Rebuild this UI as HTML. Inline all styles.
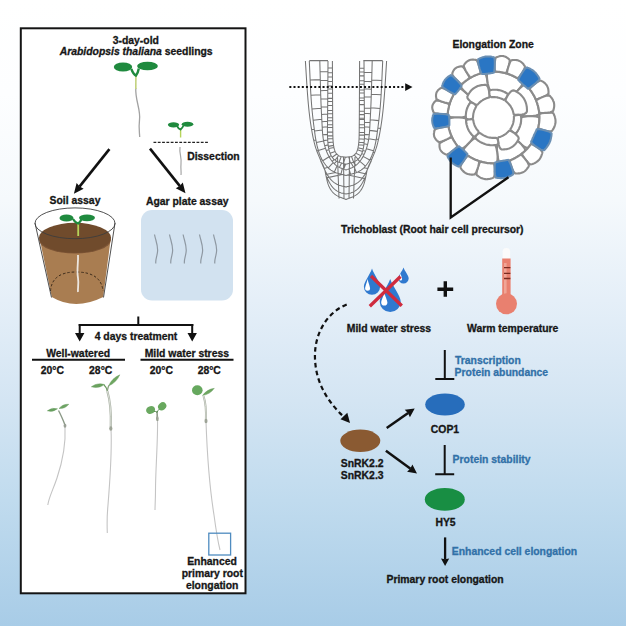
<!DOCTYPE html>
<html><head><meta charset="utf-8">
<style>
html,body{margin:0;padding:0;width:626px;height:626px;overflow:hidden;background:#fff}
svg{display:block}
text{font-family:"Liberation Sans",sans-serif;font-weight:bold;font-size:10.4px;fill:#161616;stroke:#161616;stroke-width:0.3px}
text.b{fill:#3171a8;stroke:#3171a8}
</style></head><body>
<svg width="626" height="626" viewBox="0 0 626 626">
<defs>
<linearGradient id="bg" x1="0" y1="0" x2="0" y2="626" gradientUnits="userSpaceOnUse">
<stop offset="0" stop-color="#ffffff"/>
<stop offset="0.15" stop-color="#fdfeff"/>
<stop offset="0.32" stop-color="#f5f9fc"/>
<stop offset="0.48" stop-color="#e5eff8"/>
<stop offset="0.64" stop-color="#d4e5f3"/>
<stop offset="0.8" stop-color="#c0dbee"/>
<stop offset="1" stop-color="#a8cce7"/>
</linearGradient>
</defs>
<rect width="626" height="626" fill="url(#bg)"/>
<rect x="20.8" y="28.3" width="224.7" height="565" fill="#fff" stroke="#141414" stroke-width="2"/>
<text x="135.8" y="43.50" text-anchor="middle">3-day-old</text>
<text x="136.15" y="55.10" text-anchor="middle"><tspan font-style="italic">Arabidopsis thaliana</tspan> seedlings</text>
<text x="213.45" y="159.80" text-anchor="middle">Dissection</text>
<text x="75" y="203.50" text-anchor="middle">Soil assay</text>
<text x="187.2" y="204.90" text-anchor="middle">Agar plate assay</text>
<text x="136" y="339.50" text-anchor="middle">4 days treatment</text>
<text x="78.1" y="357.40" text-anchor="middle">Well-watered</text>
<text x="186.85" y="357.40" text-anchor="middle">Mild water stress</text>
<text x="52.35" y="373.50" text-anchor="middle">20°C</text>
<text x="100.7" y="373.50" text-anchor="middle">28°C</text>
<text x="161.3" y="373.50" text-anchor="middle">20°C</text>
<text x="209.25" y="373.50" text-anchor="middle">28°C</text>
<text x="212" y="564.50" text-anchor="middle">Enhanced</text>
<text x="212.25" y="577.10" text-anchor="middle">primary root</text>
<text x="212.2" y="589.10" text-anchor="middle">elongation</text>
<text x="493.15" y="48.40" text-anchor="middle">Elongation Zone</text>
<text x="432.35" y="233.00" text-anchor="middle">Trichoblast (Root hair cell precursor)</text>
<text x="388.9" y="331.90" text-anchor="middle">Mild water stress</text>
<text x="512.7" y="332.20" text-anchor="middle">Warm temperature</text>
<text x="455.0" y="364.00" text-anchor="start" class="b">Transcription</text>
<text x="454.6" y="376.30" text-anchor="start" class="b">Protein abundance</text>
<text x="444.95" y="432.80" text-anchor="middle">COP1</text>
<text x="362.2" y="466.90" text-anchor="middle">SnRK2.2</text>
<text x="362.2" y="479.20" text-anchor="middle">SnRK2.3</text>
<text x="491.6" y="463.30" text-anchor="middle" class="b">Protein stability</text>
<text x="445.55" y="526.40" text-anchor="middle">HY5</text>
<text x="514.5" y="554.70" text-anchor="middle" class="b">Enhanced cell elongation</text>
<text x="445.1" y="583.20" text-anchor="middle">Primary root elongation</text>
<line x1="109.4" y1="149.1" x2="79.50" y2="186.66" stroke="#111" stroke-width="2.6"/>
<path d="M73.90,193.70 L76.61,183.07 L79.63,186.50 L83.65,188.68 Z" fill="#111"/>
<line x1="150" y1="148.6" x2="179.90" y2="186.16" stroke="#111" stroke-width="2.6"/>
<path d="M185.50,193.20 L175.75,188.18 L179.77,186.00 L182.79,182.57 Z" fill="#111"/>
<path d="M138.3,316.5 V325 M78.5,325 H193.5 M79.7,324 V334 M192.2,324 V334" stroke="#111" stroke-width="2" fill="none"/>
<path d="M75,333 L84.4,333 L79.7,341.5 Z M187.5,333 L196.9,333 L192.2,341.5 Z" fill="#111"/>
<path d="M32,359.8 H125 M140.5,359.8 H233.5" stroke="#111" stroke-width="2"/>
<line x1="153.5" y1="142.3" x2="208" y2="142.3" stroke="#222" stroke-width="1.25" stroke-dasharray="2.8,1.5"/>
<path d="M135.8,88 C135,100 141,110 139.5,120 C138.5,128 139.5,132 139.7,137" stroke="#a2a2a2" stroke-width="1.3" fill="none"/>
<line x1="135.9" y1="75" x2="135.8" y2="89" stroke="#c3d27e" stroke-width="1.6"/>
<path d="M131.3,69 Q133.5,74.5 135.9,75.6 Q137.9,73.5 138.8,68.5" stroke="#1f8a3e" stroke-width="2.4" fill="none"/>
<ellipse cx="123" cy="67" rx="9.2" ry="4.6" fill="#1f8a3e"/><ellipse cx="147.5" cy="66" rx="10.4" ry="4.3" fill="#1f8a3e"/>
<line x1="180.6" y1="128" x2="180.6" y2="137.5" stroke="#b6d45a" stroke-width="1.4"/>
<path d="M177,126 Q178.5,129 180.6,129.5 Q182.5,128 183.5,125.5" stroke="#1f8a3e" stroke-width="1.8" fill="none"/>
<ellipse cx="173.5" cy="124.8" rx="5.6" ry="2.6" fill="#1f8a3e"/><ellipse cx="187.5" cy="124.3" rx="5.8" ry="2.5" fill="#1f8a3e"/>
<path d="M180,147 C179,153 182,158 181,164 C180.5,169 181.5,172 181,175" stroke="#a6a6a6" stroke-width="1.2" fill="none"/>
<path d="M39.5,238 L51.8,297 Q75,311 103.2,297 L110.8,238 Z" fill="#a97d51"/>
<ellipse cx="75" cy="240" rx="35.8" ry="13.5" fill="#7d5536"/>
<ellipse cx="75" cy="237.8" rx="36" ry="15" fill="#704b2c"/>
<path d="M50.5,291 Q52,272 76,272 Q101,272 103,291" stroke="#3a2a1a" stroke-width="1" stroke-dasharray="2.5,2" fill="none"/>
<path d="M78,255 C78.5,262 76.5,270 78,278 C79,284 77.5,289 78,292" stroke="#ece6df" stroke-width="1.8" fill="none"/>
<ellipse cx="75" cy="223.3" rx="40" ry="15.4" fill="none" stroke="#3d3d3d" stroke-width="0.9"/>
<path d="M35,223 L51.5,297.5 M115,223 L103.5,297.5" stroke="#3d3d3d" stroke-width="0.9"/>
<line x1="78.2" y1="222" x2="78.2" y2="236" stroke="#b6d45a" stroke-width="1.8"/>
<path d="M73,219 Q75.5,223 78.2,223.5 Q80.5,222 82,218" stroke="#1f8a3e" stroke-width="2.2" fill="none"/>
<ellipse cx="66.5" cy="218" rx="7" ry="3.6" fill="#1f8a3e"/><ellipse cx="87" cy="217.8" rx="8" ry="3.4" fill="#1f8a3e"/>
<rect x="141" y="210" width="92" height="90.5" rx="11" fill="#d2e2f0"/>
<path d="M154.5,234.5 C155.5,240 158,245 157.6,251 C157.3,256 155.3,259 155.8,263.5" stroke="#8e98a2" stroke-width="1.2" fill="none"/>
<path d="M169.5,234.5 C170.5,240 173,245 172.6,251 C172.3,256 170.3,259 170.8,263.5" stroke="#8e98a2" stroke-width="1.2" fill="none"/>
<path d="M183.1,234.5 C184.1,240 186.6,245 186.2,251 C185.9,256 183.9,259 184.4,263.5" stroke="#8e98a2" stroke-width="1.2" fill="none"/>
<path d="M199.5,234.5 C200.5,240 203,245 202.6,251 C202.3,256 200.3,259 200.8,263.5" stroke="#8e98a2" stroke-width="1.2" fill="none"/>
<path d="M213.5,234.5 C214.5,240 217,245 216.6,251 C216.3,256 214.3,259 214.8,263.5" stroke="#8e98a2" stroke-width="1.2" fill="none"/>
<path d="M65,427 C66,445 63,460 57,478 C53,490 49,497 47.8,505" stroke="#c4c4c4" stroke-width="1.1" fill="none"/>
<path d="M58.5,410.5 Q61.5,416 65,425" stroke="#8a9886" stroke-width="1.4" fill="none"/>
<path d="M47.3,410.8 Q52.98,412.74 57.5,408.8 Q51.82,406.86 47.3,410.8 Z" fill="#68a060" stroke="#5e9456" stroke-width="0.4"/>
<path d="M59,408.5 Q65.00,408.97 68.8,404.3 Q62.80,403.83 59,408.5 Z" fill="#6ea464" stroke="#5e9456" stroke-width="0.4"/>
<ellipse cx="65" cy="425.8" rx="1.4" ry="2" fill="#9aa096"/>
<path d="M111,429 C112,450 110,480 108,505 C107,515 107,525 107.3,533" stroke="#c4c4c4" stroke-width="1.1" fill="none"/>
<path d="M107.3,391 Q111.5,405 110.8,427" stroke="#a9b0a4" stroke-width="2.2" fill="none"/>
<path d="M107.3,391 Q111.5,405 110.8,427" stroke="#dfe3db" stroke-width="0.9" fill="none"/>
<path d="M91.3,386.8 Q98.48,389.00 104.5,384.5 Q97.32,382.30 91.3,386.8 Z" fill="#6aa25e" stroke="#5e9456" stroke-width="0.4"/>
<path d="M104,385 Q106.5,387 107.3,391" stroke="#6a9a5e" stroke-width="1.2" fill="none"/>
<path d="M108.5,386 Q116.40,382.67 119.8,374.8 Q111.90,378.13 108.5,386 Z" fill="#6ea660" stroke="#5e9456" stroke-width="0.4"/>
<path d="M107.3,391 Q107.8,388 108.8,385.5" stroke="#8aa080" stroke-width="1.3" fill="none"/>
<ellipse cx="110.8" cy="428.5" rx="1.6" ry="2.2" fill="#9da396"/>
<path d="M157.5,420 C158,440 155.5,470 155.5,490 C155.5,500 155,505 155,510" stroke="#c4c4c4" stroke-width="1.1" fill="none"/>
<path d="M157,411 L157.5,421" stroke="#8f9a8a" stroke-width="1.6"/>
<ellipse cx="150.6" cy="410" rx="4.6" ry="3.8" transform="rotate(-20 150.6 410)" fill="#6aa860"/>
<ellipse cx="162.2" cy="406.3" rx="4.4" ry="3.7" transform="rotate(-40 162.2 406.3)" fill="#68a85e"/>
<path d="M154,411.5 Q156,411 157,412.5 Q158,410 159.5,409" stroke="#5f8f58" stroke-width="1" fill="none"/>
<ellipse cx="157.3" cy="418.5" rx="1.3" ry="2.3" fill="#9da396"/>
<path d="M206,422 C207,450 210,490 214,515 C216,530 218,542 220,550" stroke="#c4c4c4" stroke-width="1.1" fill="none"/>
<path d="M203.5,396 Q206.5,405 205.9,420" stroke="#a9b0a4" stroke-width="2" fill="none"/>
<path d="M203.5,396 Q206.5,405 205.9,420" stroke="#e2e5de" stroke-width="0.8" fill="none"/>
<ellipse cx="197.3" cy="390.3" rx="5.3" ry="5" fill="#66a85e"/>
<path d="M202.5,395.5 Q209.96,394.46 214.3,388.3 Q206.84,389.34 202.5,395.5 Z" fill="#6ea660" stroke="#5e9456" stroke-width="0.4"/>
<ellipse cx="206" cy="421" rx="1.5" ry="2.2" fill="#9da396"/>
<rect x="208.8" y="533.2" width="21.8" height="21.8" fill="none" stroke="#4f8cc0" stroke-width="1.3"/>
<path d="M372,268.6 C374.025,274.935 380.1,282.245 380.1,286.7 A8.1,8.1 0 0 1 363.9,286.7 C363.9,282.245 369.975,274.935 372,268.6 Z" fill="#2f79cf"/>
<path d="M403.5,267.4 C404.8,271.215 408.7,275.44 408.7,278.3 A5.2,5.2 0 0 1 398.3,278.3 C398.3,275.44 402.2,271.215 403.5,267.4 Z" fill="#2f79cf"/>
<path d="M390.2,278.9 C392.825,286.81 400.7,295.725 400.7,301.5 A10.5,10.5 0 0 1 379.7,301.5 C379.7,295.725 387.575,286.81 390.2,278.9 Z" fill="#2f79cf"/>
<path d="M367.6,279 C368.225,282.255 370.1,286.925 370.1,288.3 A2.5,2.5 0 0 1 365.1,288.3 C365.1,286.925 366.975,282.255 367.6,279 Z" fill="#ffffff"/>
<path d="M384.3,292.5 C385.075,295.965 387.40000000000003,300.695 387.40000000000003,302.4 A3.1,3.1 0 0 1 381.2,302.4 C381.2,300.695 383.52500000000003,295.965 384.3,292.5 Z" fill="#ffffff"/>
<path d="M400.6,273.2 C400.975,275.23 402.1,278.175 402.1,279.0 A1.5,1.5 0 0 1 399.1,279.0 C399.1,278.175 400.225,275.23 400.6,273.2 Z" fill="#ffffff"/>
<path d="M371,276 L401.8,305.8 M400.5,276.5 L369.8,306.2" stroke="#cf2b3e" stroke-width="3.3" />
<path d="M437.4,289.2 H453.2 M445.3,281.3 V296.8" stroke="#111" stroke-width="3.4"/>
<rect x="502.6" y="248" width="7.6" height="14" rx="3.8" fill="#fbfbfb"/>
<rect x="502.2" y="258.5" width="8.4" height="40" fill="#e9806f"/>
<rect x="504" y="263" width="2.6" height="33" fill="#f0a596"/>
<circle cx="506.5" cy="303.8" r="10.5" fill="#e9806f"/>
<path d="M504,267.6 H510.4 M504,273.4 H510.4 M504,278.5 H510.4" stroke="#7a2a20" stroke-width="1.3"/>
<path d="M346.7,304.4 C324,314 313,338 315.2,362 C317,386 330,404 343.5,416.5" stroke="#111" stroke-width="2.2" fill="none" stroke-dasharray="4.6,3.3"/>
<path d="M350,423 L340.5,419.3 L347.3,412.8 Z" fill="#111"/>
<line x1="386.7" y1="428" x2="408.15" y2="412.99" stroke="#111" stroke-width="2.5"/>
<path d="M414.70,408.40 L409.91,417.25 L407.98,413.10 L404.75,409.87 Z" fill="#111"/>
<line x1="385.9" y1="450.7" x2="410.54" y2="468.68" stroke="#111" stroke-width="2.5"/>
<path d="M417.00,473.40 L407.08,471.73 L410.38,468.57 L412.38,464.46 Z" fill="#111"/>
<path d="M444.8,349.9 V379.1 M435.3,379.1 H454.3" stroke="#111" stroke-width="2" fill="none"/>
<path d="M444.7,444.9 V474.3 M435.2,474.3 H454.2" stroke="#111" stroke-width="2" fill="none"/>
<line x1="445.1" y1="537.4" x2="445.10" y2="559.50" stroke="#111" stroke-width="2.3"/>
<path d="M445.10,566.00 L441.00,558.50 L445.10,559.30 L449.20,558.50 Z" fill="#111"/>
<ellipse cx="445" cy="404.5" rx="19.8" ry="11" fill="#276dbb"/>
<ellipse cx="360.3" cy="440.8" rx="20" ry="11.2" fill="#8a5a32"/>
<ellipse cx="444.8" cy="499.4" rx="20" ry="11.4" fill="#188e43"/>
<path d="M332.40,61.00 L332.40,62.05 L332.41,64.14 L332.43,67.28 L332.45,71.47 L332.47,76.70 L332.50,82.98 L332.53,90.31 L332.57,98.69 L332.61,106.25 L332.64,113.00 L332.68,118.94 L332.72,124.06 L332.76,128.38 L332.79,131.88 L332.83,134.56 L332.87,136.44 L332.93,138.23 L333.02,139.93 L333.14,141.55 L333.28,143.08 L333.45,144.52 L333.65,145.88 L333.88,147.16 L334.12,148.34 L334.41,149.45 L334.74,150.46 L335.11,151.39 L335.52,152.23 L335.96,152.99 L336.45,153.66 L336.97,154.25 L337.53,154.75 L338.12,155.20 L338.75,155.60 L339.41,155.94 L340.09,156.23 L340.81,156.48 L341.56,156.67 L342.34,156.81 L343.16,156.89 L343.87,156.97 L344.48,157.04 L344.98,157.09 L345.39,157.13 L345.70,157.17 L345.90,157.19 L346.00,157.20 L346.10,157.19 L346.30,157.17 L346.61,157.13 L347.02,157.09 L347.52,157.04 L348.13,156.97 L348.84,156.89 L349.66,156.81 L350.44,156.67 L351.19,156.48 L351.91,156.23 L352.59,155.94 L353.25,155.60 L353.88,155.20 L354.47,154.75 L355.03,154.25 L355.55,153.66 L356.04,152.99 L356.48,152.23 L356.89,151.39 L357.26,150.46 L357.59,149.45 L357.88,148.34 L358.12,147.16 L358.35,145.88 L358.55,144.52 L358.72,143.08 L358.86,141.55 L358.98,139.93 L359.07,138.23 L359.13,136.44 L359.17,134.56 L359.21,131.88 L359.24,128.38 L359.28,124.06 L359.32,118.94 L359.36,113.00 L359.39,106.25 L359.43,98.69 L359.47,90.31 L359.50,82.98 L359.53,76.70 L359.55,71.47 L359.57,67.28 L359.59,64.14 L359.60,62.05 L359.60,61.00 M328.00,61.00 L327.99,61.89 L327.98,63.67 L327.96,66.34 L327.94,69.91 L327.91,74.36 L327.87,79.70 L327.83,85.94 L327.77,93.06 L327.73,99.61 L327.68,105.58 L327.63,110.97 L327.59,115.78 L327.55,120.02 L327.51,123.67 L327.47,126.75 L327.43,129.25 L327.43,131.66 L327.45,133.97 L327.51,136.19 L327.59,138.31 L327.71,140.34 L327.86,142.28 L328.04,144.12 L328.26,145.88 L328.53,147.55 L328.86,149.14 L329.25,150.66 L329.70,152.09 L330.21,153.45 L330.78,154.73 L331.41,155.94 L332.09,157.06 L332.88,158.10 L333.75,159.04 L334.72,159.89 L335.78,160.66 L336.94,161.33 L338.19,161.91 L339.53,162.40 L340.97,162.80 L342.23,163.15 L343.30,163.45 L344.20,163.70 L344.92,163.90 L345.46,164.05 L345.82,164.15 L346.00,164.20 L346.18,164.15 L346.54,164.05 L347.08,163.90 L347.80,163.70 L348.70,163.45 L349.77,163.15 L351.03,162.80 L352.47,162.40 L353.81,161.91 L355.06,161.33 L356.22,160.66 L357.28,159.89 L358.25,159.04 L359.12,158.10 L359.91,157.06 L360.59,155.94 L361.22,154.73 L361.79,153.45 L362.30,152.09 L362.75,150.66 L363.14,149.14 L363.47,147.55 L363.74,145.88 L363.96,144.12 L364.14,142.28 L364.29,140.34 L364.41,138.31 L364.49,136.19 L364.55,133.97 L364.57,131.66 L364.57,129.25 L364.53,126.75 L364.49,123.67 L364.45,120.02 L364.41,115.78 L364.37,110.97 L364.32,105.58 L364.27,99.61 L364.23,93.06 L364.17,85.94 L364.13,79.70 L364.09,74.36 L364.06,69.91 L364.04,66.34 L364.02,63.67 L364.01,61.89 L364.00,61.00 M319.80,61.00 L319.82,61.61 L319.85,62.83 L319.89,64.66 L319.96,67.09 L320.03,70.14 L320.13,73.80 L320.24,78.06 L320.36,82.94 L320.49,87.58 L320.62,91.98 L320.76,96.16 L320.89,100.09 L321.03,103.80 L321.18,107.27 L321.32,110.50 L321.47,113.50 L321.62,116.38 L321.77,119.12 L321.91,121.75 L322.04,124.25 L322.18,126.62 L322.31,128.88 L322.44,131.00 L322.56,133.00 L322.74,134.98 L322.98,136.95 L323.27,138.91 L323.61,140.84 L324.01,142.77 L324.46,144.67 L324.97,146.56 L325.53,148.44 L326.15,150.25 L326.82,152.00 L327.55,153.69 L328.33,155.31 L329.16,156.88 L330.05,158.38 L331.00,159.81 L332.00,161.19 L333.04,162.45 L334.12,163.61 L335.23,164.66 L336.39,165.59 L337.59,166.42 L338.82,167.14 L340.09,167.75 L341.41,168.25 L342.55,168.69 L343.54,169.06 L344.36,169.38 L345.02,169.62 L345.51,169.81 L345.84,169.94 L346.00,170.00 L346.16,169.94 L346.49,169.81 L346.98,169.62 L347.64,169.38 L348.46,169.06 L349.45,168.69 L350.59,168.25 L351.91,167.75 L353.18,167.14 L354.41,166.42 L355.61,165.59 L356.77,164.66 L357.88,163.61 L358.96,162.45 L360.00,161.19 L361.00,159.81 L361.95,158.38 L362.84,156.88 L363.67,155.31 L364.45,153.69 L365.18,152.00 L365.85,150.25 L366.47,148.44 L367.03,146.56 L367.54,144.67 L367.99,142.77 L368.39,140.84 L368.73,138.91 L369.02,136.95 L369.26,134.98 L369.44,133.00 L369.56,131.00 L369.69,128.88 L369.82,126.62 L369.96,124.25 L370.09,121.75 L370.23,119.12 L370.38,116.38 L370.53,113.50 L370.68,110.50 L370.82,107.27 L370.97,103.80 L371.11,100.09 L371.24,96.16 L371.38,91.98 L371.51,87.58 L371.64,82.94 L371.76,78.06 L371.87,73.80 L371.97,70.14 L372.04,67.09 L372.11,64.66 L372.15,62.83 L372.18,61.61 L372.20,61.00 M309.30,61.00 L309.33,61.61 L309.38,62.83 L309.46,64.66 L309.57,67.09 L309.70,70.14 L309.86,73.80 L310.04,78.06 L310.26,82.94 L310.48,87.58 L310.72,91.98 L310.97,96.16 L311.23,100.09 L311.51,103.80 L311.79,107.27 L312.09,110.50 L312.41,113.50 L312.73,116.45 L313.05,119.36 L313.39,122.22 L313.73,125.03 L314.09,127.80 L314.45,130.52 L314.81,133.19 L315.19,135.81 L315.59,138.34 L316.03,140.78 L316.50,143.12 L317.00,145.38 L317.53,147.53 L318.09,149.59 L318.69,151.56 L319.31,153.44 L320.01,155.26 L320.77,157.02 L321.61,158.73 L322.52,160.39 L323.49,161.99 L324.54,163.54 L325.66,165.03 L326.84,166.47 L328.12,167.79 L329.48,168.99 L330.92,170.08 L332.45,171.05 L334.07,171.90 L335.77,172.63 L337.56,173.25 L339.44,173.75 L341.08,174.19 L342.48,174.56 L343.66,174.88 L344.59,175.12 L345.30,175.31 L345.77,175.44 L346.00,175.50 L346.23,175.44 L346.70,175.31 L347.41,175.12 L348.34,174.88 L349.52,174.56 L350.92,174.19 L352.56,173.75 L354.44,173.25 L356.23,172.63 L357.93,171.90 L359.55,171.05 L361.08,170.08 L362.52,168.99 L363.88,167.79 L365.16,166.47 L366.34,165.03 L367.46,163.54 L368.51,161.99 L369.48,160.39 L370.39,158.73 L371.23,157.02 L371.99,155.26 L372.69,153.44 L373.31,151.56 L373.91,149.59 L374.47,147.53 L375.00,145.38 L375.50,143.12 L375.97,140.78 L376.41,138.34 L376.81,135.81 L377.19,133.19 L377.55,130.52 L377.91,127.80 L378.27,125.03 L378.61,122.22 L378.95,119.36 L379.27,116.45 L379.59,113.50 L379.91,110.50 L380.21,107.27 L380.49,103.80 L380.77,100.09 L381.03,96.16 L381.28,91.98 L381.52,87.58 L381.74,82.94 L381.96,78.06 L382.14,73.80 L382.30,70.14 L382.43,67.09 L382.54,64.66 L382.62,62.83 L382.67,61.61 L382.70,61.00 M305.40,61.00 L305.44,61.61 L305.51,62.83 L305.62,64.66 L305.77,67.09 L305.96,70.14 L306.19,73.80 L306.45,78.06 L306.75,82.94 L307.05,87.58 L307.36,91.98 L307.68,96.16 L308.00,100.09 L308.32,103.80 L308.65,107.27 L308.98,110.50 L309.32,113.50 L309.68,116.45 L310.05,119.36 L310.45,122.22 L310.87,125.03 L311.31,127.80 L311.77,130.52 L312.25,133.19 L312.75,135.81 L313.27,138.31 L313.80,140.69 L314.34,142.94 L314.91,145.06 L315.48,147.06 L316.08,148.94 L316.69,150.69 L317.31,152.31 L317.94,153.89 L318.56,155.42 L319.19,156.91 L319.81,158.34 L320.44,159.73 L321.06,161.08 L321.69,162.38 L322.31,163.62 L322.88,164.84 L323.40,166.03 L323.86,167.19 L324.27,168.31 L324.62,169.41 L324.91,170.47 L325.16,171.50 L325.34,172.50 L325.55,173.54 L325.77,174.62 L326.00,175.73 L326.25,176.89 L326.52,178.09 L326.80,179.32 L327.09,180.59 L327.41,181.91 L327.77,183.19 L328.20,184.44 L328.67,185.66 L329.20,186.84 L329.79,188.00 L330.43,189.12 L331.12,190.22 L331.88,191.28 L332.71,192.28 L333.63,193.22 L334.64,194.09 L335.73,194.91 L336.91,195.66 L338.18,196.34 L339.53,196.97 L340.97,197.53 L342.23,198.02 L343.30,198.45 L344.20,198.80 L344.92,199.08 L345.46,199.29 L345.82,199.43 L346.00,199.50 L346.18,199.43 L346.54,199.29 L347.08,199.08 L347.80,198.80 L348.70,198.45 L349.77,198.02 L351.03,197.53 L352.47,196.97 L353.82,196.34 L355.09,195.66 L356.27,194.91 L357.36,194.09 L358.37,193.22 L359.29,192.28 L360.12,191.28 L360.88,190.22 L361.57,189.12 L362.21,188.00 L362.80,186.84 L363.33,185.66 L363.80,184.44 L364.23,183.19 L364.59,181.91 L364.91,180.59 L365.20,179.32 L365.48,178.09 L365.75,176.89 L366.00,175.73 L366.23,174.62 L366.45,173.54 L366.66,172.50 L366.84,171.50 L367.09,170.47 L367.38,169.41 L367.73,168.31 L368.14,167.19 L368.60,166.03 L369.12,164.84 L369.69,163.62 L370.31,162.38 L370.94,161.08 L371.56,159.73 L372.19,158.34 L372.81,156.91 L373.44,155.42 L374.06,153.89 L374.69,152.31 L375.31,150.69 L375.92,148.94 L376.52,147.06 L377.09,145.06 L377.66,142.94 L378.20,140.69 L378.73,138.31 L379.25,135.81 L379.75,133.19 L380.23,130.52 L380.69,127.80 L381.13,125.03 L381.55,122.22 L381.95,119.36 L382.32,116.45 L382.68,113.50 L383.02,110.50 L383.35,107.27 L383.68,103.80 L384.00,100.09 L384.32,96.16 L384.64,91.98 L384.95,87.58 L385.25,82.94 L385.55,78.06 L385.81,73.80 L386.04,70.14 L386.23,67.09 L386.38,64.66 L386.49,62.83 L386.56,61.61 L386.60,61.00 M309.30,60.60 L328.00,60.60 M363.30,60.60 L382.70,60.60 M332.43,67.92 L327.95,67.77 M332.45,72.76 L327.92,72.66 M332.47,76.91 L327.89,76.80 M332.49,81.41 L327.86,81.32 M332.51,85.91 L327.83,85.83 M332.53,89.02 L327.80,88.84 M332.54,93.18 L327.78,92.98 M332.57,98.37 L327.74,98.25 M332.58,101.48 L327.71,101.26 M332.60,105.29 L327.68,105.40 M332.63,110.47 L327.64,110.29 M332.65,113.59 L327.61,113.67 M332.67,117.74 L327.57,117.81 M332.70,120.85 L327.54,120.82 M332.72,124.66 L327.50,124.58 M332.75,127.43 L327.46,127.22 M332.79,131.92 L327.43,132.11 M332.85,135.73 L327.50,135.87 M332.95,138.50 L327.63,138.88 M333.18,141.95 L327.90,142.63 M333.58,145.38 L328.34,146.37 M333.93,147.43 L328.74,148.59 M335.11,151.40 L330.14,153.27 M336.77,154.02 L332.24,157.25 M338.65,155.53 L335.13,160.19 M341.20,156.58 L339.12,162.25 M345.31,157.13 L343.46,163.49 M359.57,68.27 L364.05,68.15 M359.55,72.07 L364.08,71.91 M359.53,75.88 L364.10,75.67 M359.51,80.72 L364.14,80.56 M359.50,84.18 L364.16,84.33 M359.47,90.06 L364.20,89.97 M359.46,92.83 L364.22,92.98 M359.43,98.02 L364.26,97.87 M359.42,100.44 L364.28,100.51 M359.40,104.59 L364.31,104.64 M359.37,111.17 L364.37,111.04 M359.35,114.63 L364.40,114.43 M359.32,118.09 L364.43,118.19 M359.31,119.47 L364.44,119.32 M359.28,124.66 L364.50,124.58 M359.25,127.77 L364.54,127.59 M359.20,132.27 L364.57,132.49 M359.16,135.04 L364.52,135.12 M359.03,138.84 L364.35,139.25 M358.79,142.29 L364.10,142.63 M358.52,144.70 L363.82,145.25 M358.00,147.77 L363.18,148.96 M357.48,149.78 L362.49,151.50 M355.88,153.21 L360.74,155.65 M354.21,154.95 L358.03,159.23 M351.46,156.38 L353.58,161.99 M348.75,156.90 L350.35,162.99 M327.93,71.53 L320.07,71.71 M327.87,80.19 L320.30,80.44 M327.79,90.35 L320.59,90.75 M327.73,99.00 L320.86,99.08 M327.67,106.90 L321.17,107.01 M327.61,114.05 L321.53,114.54 M327.54,121.20 L321.90,121.67 M327.47,126.84 L322.21,127.21 M327.46,134.37 L322.72,134.73 M327.69,140.01 L323.57,140.62 M328.13,144.88 L324.72,145.65 M329.00,149.69 L326.27,150.57 M331.26,155.65 L329.07,156.70 M334.25,159.48 L332.12,161.33 M336.71,161.20 L334.22,163.71 M341.65,162.99 L339.35,167.40 M344.91,163.90 L343.03,168.87 M364.08,72.29 L371.91,72.50 M364.14,81.32 L371.67,81.63 M364.20,88.84 L371.46,89.16 M364.25,96.74 L371.21,97.09 M364.34,108.03 L370.78,108.19 M364.39,113.30 L370.51,113.74 M364.48,122.33 L370.05,122.46 M364.53,126.84 L369.79,127.21 M364.54,134.37 L369.28,134.73 M364.40,138.50 L368.64,139.45 M363.99,143.75 L367.58,144.50 M362.81,150.41 L365.45,151.31 M361.72,153.62 L364.02,154.58 M357.75,159.48 L359.88,161.33 M353.23,162.12 L355.99,165.28 M351.07,162.79 L353.36,167.04 M345.64,164.10 L343.78,169.15 M320.28,79.64 L310.13,80.04 M320.71,94.71 L310.91,95.18 M321.22,108.19 L311.95,109.00 M321.77,119.29 L313.15,120.19 M322.38,129.99 L314.50,130.93 M323.64,141.01 L316.37,142.47 M325.50,148.32 L318.35,150.46 M329.07,156.70 L322.76,160.79 M333.13,162.55 L328.31,167.96 M336.96,165.99 L334.39,172.04 M342.29,168.59 L340.98,174.16 M371.71,80.04 L381.85,80.47 M371.30,94.32 L381.12,94.74 M370.80,107.80 L380.09,108.56 M370.20,119.69 L378.80,120.62 M369.60,130.38 L377.44,131.36 M368.77,138.67 L376.12,139.92 M366.38,148.69 L373.52,150.87 M363.12,156.35 L369.68,160.04 M359.88,161.33 L365.48,166.07 M354.04,166.64 L356.41,172.55 M348.97,168.87 L350.60,174.27 M314.27,129.22 L311.61,129.56 M315.88,139.92 L313.74,140.41 M318.35,150.46 L316.82,151.03 M321.70,158.90 L320.28,159.39 M327.69,167.35 L324.35,168.57 M335.59,172.55 L325.73,174.44 M342.23,174.50 L326.47,177.88 M377.90,127.93 L380.56,128.57 M376.28,139.07 L378.48,139.43 M373.13,152.11 L374.45,152.90 M370.09,159.28 L371.51,159.84 M364.01,167.66 L367.65,168.57 M357.61,172.04 L366.37,173.95 M348.09,174.94 L365.31,178.86 M320.50,160.50 L320.62,160.76 L320.85,161.27 L321.20,162.05 L321.67,163.08 L322.26,164.37 L322.96,165.91 L323.78,167.72 L324.72,169.78 L325.66,171.70 L326.62,173.48 L327.58,175.12 L328.55,176.62 L329.52,177.98 L330.51,179.20 L331.50,180.28 L332.50,181.22 L333.53,182.08 L334.59,182.86 L335.69,183.56 L336.81,184.19 L337.97,184.73 L339.16,185.20 L340.38,185.59 L341.62,185.91 L342.72,186.18 L343.66,186.41 L344.44,186.61 L345.06,186.77 L345.53,186.88 L345.84,186.96 L346.00,187.00 L346.16,186.96 L346.47,186.88 L346.94,186.77 L347.56,186.61 L348.34,186.41 L349.28,186.18 L350.38,185.91 L351.62,185.59 L352.84,185.20 L354.03,184.73 L355.19,184.19 L356.31,183.56 L357.41,182.86 L358.47,182.08 L359.50,181.22 L360.50,180.28 L361.49,179.20 L362.48,177.98 L363.45,176.62 L364.42,175.12 L365.38,173.48 L366.34,171.70 L367.28,169.78 L368.22,167.72 L369.04,165.91 L369.74,164.37 L370.33,163.08 L370.80,162.05 L371.15,161.27 L371.38,160.76 L371.50,160.50 M326.00,176.00 L326.09,176.18 L326.28,176.54 L326.56,177.08 L326.94,177.80 L327.41,178.70 L327.97,179.77 L328.62,181.03 L329.38,182.47 L330.14,183.80 L330.92,185.04 L331.72,186.17 L332.53,187.20 L333.36,188.13 L334.20,188.96 L335.06,189.69 L335.94,190.31 L336.81,190.88 L337.69,191.40 L338.56,191.86 L339.44,192.27 L340.31,192.62 L341.19,192.91 L342.06,193.16 L342.94,193.34 L343.70,193.51 L344.36,193.65 L344.91,193.77 L345.34,193.86 L345.67,193.93 L345.89,193.98 L346.00,194.00 L346.11,193.98 L346.33,193.93 L346.66,193.86 L347.09,193.77 L347.64,193.65 L348.30,193.51 L349.06,193.34 L349.94,193.16 L350.81,192.91 L351.69,192.62 L352.56,192.27 L353.44,191.86 L354.31,191.40 L355.19,190.88 L356.06,190.31 L356.94,189.69 L357.80,188.96 L358.64,188.13 L359.47,187.20 L360.28,186.17 L361.08,185.04 L361.86,183.80 L362.62,182.47 L363.38,181.03 L364.03,179.77 L364.59,178.70 L365.06,177.80 L365.44,177.08 L365.72,176.54 L365.91,176.18 L366.00,176.00 M337.50,157.00 L339.00,198.50 M343.50,157.00 L344.00,198.50 M349.50,157.00 L349.00,198.50 M355.00,157.00 L353.50,198.50" fill="none" stroke="#747474" stroke-width="1.05" stroke-linejoin="round"/>
<circle cx="493.5" cy="117.5" r="47" fill="#fff"/>
<path d="M447.6,115.4 L447.7,114.0 L447.8,112.6 L448.0,111.2 L448.2,109.8 L448.5,108.4 L448.8,107.1 L449.1,105.7 L449.5,104.4 L449.9,103.0 L450.4,101.7 L450.9,100.4 L451.4,99.1 L452.0,97.8 L452.6,96.6 L453.3,95.3 L454.0,94.1 L454.7,92.9 L455.5,91.7 L456.3,90.6 L457.1,89.5 L458.0,88.4 L459.5,88.3 L461.7,89.3 L464.5,91.4 L467.9,94.5 L470.4,96.9 L471.8,98.8 L472.3,100.1 L471.8,100.7 L471.3,101.4 L470.8,102.1 L470.3,102.8 L469.9,103.5 L469.5,104.2 L469.1,105.0 L468.7,105.7 L468.3,106.5 L468.0,107.3 L467.7,108.1 L467.4,108.8 L467.2,109.6 L467.0,110.5 L466.8,111.3 L466.6,112.1 L466.4,112.9 L466.3,113.7 L466.2,114.6 L466.1,115.4 L466.1,116.2 L464.9,116.9 L462.5,117.3 L459.1,117.5 L454.4,117.5 L451.0,117.1 L448.7,116.4Z" fill="#fff" stroke="#8b8b8b" stroke-width="2.1"/>
<path d="M460.7,85.4 L461.6,84.5 L462.5,83.6 L463.5,82.7 L464.5,81.9 L465.5,81.1 L466.5,80.3 L467.6,79.6 L468.6,78.9 L469.7,78.2 L470.8,77.5 L472.0,76.9 L473.1,76.3 L474.3,75.8 L475.5,75.3 L476.6,74.8 L477.8,74.3 L479.1,73.9 L480.3,73.5 L481.5,73.2 L482.8,72.8 L484.0,72.6 L485.2,73.5 L486.2,75.6 L487.1,79.0 L487.8,83.5 L488.2,87.0 L488.2,89.4 L487.8,90.6 L487.1,90.8 L486.3,91.0 L485.6,91.2 L484.9,91.4 L484.1,91.7 L483.4,92.0 L482.7,92.2 L482.0,92.6 L481.3,92.9 L480.6,93.2 L480.0,93.6 L479.3,94.0 L478.6,94.4 L478.0,94.8 L477.4,95.3 L476.8,95.7 L476.2,96.2 L475.6,96.7 L475.0,97.2 L474.4,97.7 L473.9,98.3 L472.6,97.9 L470.6,96.6 L467.9,94.5 L464.5,91.4 L462.1,88.8 L460.9,86.8Z" fill="#fff" stroke="#8b8b8b" stroke-width="2.1"/>
<path d="M488.5,71.9 L490.2,71.7 L491.9,71.6 L493.6,71.6 L495.3,71.7 L497.1,71.8 L498.8,71.9 L500.5,72.2 L502.2,72.4 L503.8,72.8 L505.5,73.2 L507.2,73.7 L508.8,74.2 L510.4,74.8 L512.0,75.5 L513.5,76.2 L515.1,77.0 L516.6,77.8 L518.0,78.7 L519.5,79.7 L520.9,80.7 L522.2,81.7 L522.5,83.4 L521.6,85.6 L519.6,88.5 L516.5,91.9 L514.0,94.3 L512.1,95.7 L510.7,96.1 L509.9,95.5 L509.0,94.9 L508.2,94.3 L507.3,93.8 L506.4,93.3 L505.5,92.8 L504.6,92.4 L503.6,92.0 L502.6,91.6 L501.7,91.3 L500.7,91.0 L499.7,90.8 L498.7,90.6 L497.7,90.4 L496.7,90.3 L495.6,90.2 L494.6,90.1 L493.6,90.1 L492.5,90.1 L491.5,90.1 L490.5,90.2 L489.5,89.2 L488.6,86.9 L487.8,83.5 L487.1,79.0 L486.9,75.5 L487.4,73.2Z" fill="#fff" stroke="#8b8b8b" stroke-width="2.1"/>
<path d="M525.9,85.0 L527.0,86.1 L528.0,87.2 L529.0,88.4 L529.9,89.6 L530.9,90.8 L531.7,92.1 L532.6,93.4 L533.3,94.7 L534.1,96.0 L534.8,97.4 L535.4,98.8 L536.0,100.2 L536.6,101.6 L537.1,103.1 L537.5,104.6 L537.9,106.0 L538.3,107.5 L538.6,109.0 L538.9,110.5 L539.1,112.1 L539.2,113.6 L538.2,114.8 L536.0,115.6 L532.5,116.1 L527.9,116.3 L524.4,116.2 L522.1,115.8 L520.8,115.2 L520.7,114.3 L520.6,113.3 L520.5,112.4 L520.3,111.5 L520.1,110.6 L519.8,109.8 L519.6,108.9 L519.3,108.0 L518.9,107.2 L518.6,106.3 L518.2,105.5 L517.8,104.7 L517.3,103.9 L516.8,103.1 L516.4,102.3 L515.8,101.5 L515.3,100.8 L514.7,100.1 L514.1,99.4 L513.5,98.7 L512.9,98.1 L513.2,96.7 L514.4,94.7 L516.5,91.9 L519.6,88.5 L522.2,86.2 L524.3,85.0Z" fill="#fff" stroke="#8b8b8b" stroke-width="2.1"/>
<path d="M539.4,118.2 L539.3,119.7 L539.2,121.3 L539.1,122.8 L538.9,124.3 L538.6,125.8 L538.3,127.3 L538.0,128.8 L537.6,130.3 L537.1,131.8 L536.6,133.2 L536.1,134.7 L535.5,136.1 L534.8,137.5 L534.1,138.8 L533.4,140.2 L532.6,141.5 L531.8,142.8 L530.9,144.1 L530.0,145.3 L529.1,146.5 L528.1,147.7 L526.5,147.8 L524.3,146.8 L521.6,144.6 L518.3,141.4 L515.9,138.8 L514.6,136.9 L514.2,135.5 L514.8,134.8 L515.3,134.1 L515.9,133.4 L516.4,132.6 L516.9,131.9 L517.4,131.1 L517.8,130.3 L518.2,129.4 L518.6,128.6 L519.0,127.8 L519.3,126.9 L519.6,126.0 L519.9,125.2 L520.1,124.3 L520.3,123.4 L520.5,122.5 L520.6,121.6 L520.8,120.7 L520.8,119.8 L520.9,118.8 L520.9,117.9 L522.1,117.2 L524.4,116.6 L527.9,116.3 L532.5,116.1 L536.0,116.4 L538.3,117.1Z" fill="#fff" stroke="#8b8b8b" stroke-width="2.1"/>
<path d="M525.1,150.8 L524.1,151.7 L523.1,152.6 L522.1,153.4 L521.0,154.3 L520.0,155.0 L518.8,155.8 L517.7,156.5 L516.6,157.2 L515.4,157.9 L514.2,158.5 L513.0,159.1 L511.8,159.6 L510.6,160.1 L509.3,160.6 L508.1,161.1 L506.8,161.5 L505.5,161.8 L504.2,162.2 L502.9,162.5 L501.6,162.7 L500.3,162.9 L499.2,161.9 L498.3,159.7 L497.6,156.3 L497.1,151.7 L496.9,148.3 L497.1,145.9 L497.6,144.7 L498.3,144.5 L499.1,144.4 L499.9,144.2 L500.7,144.0 L501.5,143.8 L502.2,143.5 L503.0,143.3 L503.7,143.0 L504.4,142.7 L505.2,142.3 L505.9,142.0 L506.6,141.6 L507.3,141.2 L508.0,140.8 L508.7,140.4 L509.3,139.9 L510.0,139.5 L510.6,139.0 L511.2,138.5 L511.8,138.0 L512.4,137.4 L513.7,137.8 L515.6,139.1 L518.3,141.4 L521.6,144.6 L523.8,147.3 L525.0,149.3Z" fill="#fff" stroke="#8b8b8b" stroke-width="2.1"/>
<path d="M495.8,163.3 L494.1,163.4 L492.5,163.4 L490.8,163.3 L489.1,163.2 L487.5,163.0 L485.8,162.7 L484.2,162.4 L482.6,162.1 L480.9,161.6 L479.4,161.2 L477.8,160.6 L476.2,160.0 L474.7,159.4 L473.2,158.6 L471.7,157.9 L470.2,157.1 L468.8,156.2 L467.4,155.3 L466.1,154.3 L464.8,153.3 L463.5,152.2 L463.3,150.6 L464.3,148.4 L466.4,145.6 L469.6,142.3 L472.2,139.9 L474.2,138.6 L475.5,138.2 L476.3,138.9 L477.1,139.5 L477.9,140.1 L478.7,140.6 L479.6,141.1 L480.5,141.6 L481.3,142.1 L482.3,142.5 L483.2,142.9 L484.1,143.3 L485.0,143.6 L486.0,143.9 L487.0,144.1 L487.9,144.4 L488.9,144.5 L489.9,144.7 L490.9,144.8 L491.9,144.9 L492.9,144.9 L493.9,144.9 L494.9,144.9 L495.7,146.0 L496.5,148.3 L497.1,151.7 L497.6,156.3 L497.5,159.8 L496.9,162.1Z" fill="#fff" stroke="#8b8b8b" stroke-width="2.1"/>
<path d="M460.0,148.9 L459.0,147.7 L458.0,146.6 L457.0,145.4 L456.1,144.1 L455.2,142.9 L454.4,141.6 L453.6,140.2 L452.9,138.9 L452.2,137.5 L451.6,136.1 L451.0,134.7 L450.4,133.3 L449.9,131.8 L449.4,130.4 L449.0,128.9 L448.7,127.4 L448.4,125.9 L448.1,124.4 L447.9,122.9 L447.8,121.3 L447.7,119.8 L448.7,118.7 L451.0,117.9 L454.4,117.5 L459.1,117.5 L462.5,117.7 L464.9,118.2 L466.1,118.9 L466.2,119.8 L466.2,120.7 L466.4,121.6 L466.5,122.5 L466.7,123.4 L466.9,124.3 L467.2,125.2 L467.4,126.1 L467.7,126.9 L468.1,127.8 L468.4,128.6 L468.8,129.5 L469.2,130.3 L469.7,131.1 L470.1,131.9 L470.6,132.7 L471.1,133.4 L471.7,134.2 L472.3,134.9 L472.9,135.6 L473.5,136.3 L473.1,137.6 L471.8,139.6 L469.6,142.3 L466.4,145.6 L463.7,147.8 L461.6,148.9Z" fill="#fff" stroke="#8b8b8b" stroke-width="2.1"/>
<path d="M467.3,96.7 L467.9,95.4 L468.5,94.2 L469.3,93.0 L470.1,91.9 L470.9,90.8 L471.9,89.8 L472.9,88.9 L474.0,88.1 L475.2,87.3 L476.4,86.7 L477.7,86.1 L479.0,85.7 L480.4,85.4 L481.7,85.1 L483.1,85.0 L484.5,84.9 L485.9,84.9 L487.0,85.7 L488.0,87.3 L488.7,89.6 L489.3,92.7 L489.5,95.0 L489.3,96.7 L488.9,97.6 L488.1,97.8 L487.3,98.0 L486.5,98.3 L485.8,98.6 L485.0,98.9 L484.3,99.2 L483.6,99.6 L482.9,100.0 L482.2,100.5 L481.6,100.9 L480.9,101.4 L480.3,101.9 L479.7,102.4 L479.1,103.0 L478.5,103.6 L478.0,104.2 L477.5,104.8 L476.5,104.8 L474.9,104.2 L472.9,103.1 L470.3,101.3 L468.5,99.6 L467.5,98.1Z" fill="#fff" stroke="#8b8b8b" stroke-width="2.1"/>
<path d="M490.4,90.1 L491.4,90.0 L492.4,89.8 L493.5,89.8 L494.5,89.7 L495.5,89.7 L496.6,89.8 L497.6,89.9 L498.6,90.1 L499.6,90.3 L500.6,90.5 L501.6,90.8 L502.6,91.2 L503.6,91.6 L504.5,92.0 L505.4,92.5 L506.3,93.0 L507.2,93.6 L507.6,94.4 L507.5,95.4 L507.0,96.6 L506.1,98.1 L505.2,99.1 L504.4,99.7 L503.7,99.8 L503.0,99.4 L502.3,99.0 L501.6,98.7 L500.9,98.4 L500.2,98.2 L499.5,97.9 L498.7,97.7 L498.0,97.6 L497.3,97.4 L496.5,97.3 L495.7,97.2 L495.0,97.1 L494.2,97.1 L493.5,97.1 L492.7,97.1 L491.9,97.1 L491.2,97.2 L490.5,96.8 L490.0,96.0 L489.6,94.7 L489.3,93.0 L489.3,91.6 L489.7,90.7Z" fill="#fff" stroke="#8b8b8b" stroke-width="2.1"/>
<path d="M513.9,90.4 L515.3,91.0 L516.7,91.8 L518.0,92.6 L519.3,93.5 L520.5,94.6 L521.6,95.7 L522.6,96.9 L523.6,98.1 L524.4,99.5 L525.1,100.9 L525.7,102.4 L526.2,103.9 L526.5,105.4 L526.8,107.0 L526.9,108.5 L527.0,110.1 L526.9,111.7 L526.1,112.9 L524.4,113.9 L522.0,114.5 L518.7,114.8 L516.3,114.9 L514.6,114.6 L513.6,114.0 L513.4,113.1 L513.2,112.2 L513.0,111.4 L512.7,110.5 L512.4,109.7 L512.0,108.8 L511.6,108.0 L511.1,107.2 L510.7,106.4 L510.2,105.7 L509.6,105.0 L509.0,104.3 L508.4,103.6 L507.8,102.9 L507.1,102.3 L506.5,101.7 L505.7,101.2 L505.6,100.0 L506.2,98.4 L507.3,96.2 L509.1,93.5 L510.8,91.6 L512.4,90.6Z" fill="#fff" stroke="#8b8b8b" stroke-width="2.1"/>
<path d="M521.0,116.2 L521.1,117.2 L521.2,118.2 L521.2,119.3 L521.1,120.3 L521.1,121.4 L520.9,122.4 L520.8,123.4 L520.5,124.4 L520.2,125.5 L519.9,126.5 L519.5,127.4 L519.1,128.4 L518.7,129.3 L518.1,130.2 L517.6,131.1 L517.0,132.0 L516.4,132.8 L515.6,133.2 L514.6,133.1 L513.4,132.5 L512.0,131.4 L511.0,130.5 L510.5,129.6 L510.5,128.9 L510.9,128.2 L511.3,127.6 L511.7,126.9 L512.0,126.2 L512.3,125.5 L512.6,124.8 L512.9,124.1 L513.1,123.3 L513.3,122.6 L513.5,121.8 L513.6,121.1 L513.7,120.3 L513.8,119.6 L513.9,118.8 L513.9,118.0 L513.9,117.3 L513.9,116.5 L514.3,115.9 L515.2,115.4 L516.5,115.1 L518.2,114.9 L519.6,115.0 L520.5,115.4Z" fill="#fff" stroke="#8b8b8b" stroke-width="2.1"/>
<path d="M518.7,138.8 L518.1,140.0 L517.5,141.1 L516.9,142.1 L516.1,143.2 L515.3,144.2 L514.4,145.1 L513.5,145.9 L512.5,146.7 L511.4,147.3 L510.3,147.9 L509.1,148.4 L507.9,148.8 L506.7,149.1 L505.4,149.3 L504.1,149.4 L502.9,149.5 L501.6,149.5 L500.5,148.7 L499.6,147.2 L498.8,145.0 L498.3,142.0 L498.0,139.8 L498.1,138.2 L498.5,137.3 L499.2,137.1 L499.9,136.9 L500.6,136.7 L501.3,136.4 L502.0,136.1 L502.7,135.8 L503.4,135.4 L504.0,135.0 L504.7,134.6 L505.3,134.2 L505.9,133.8 L506.5,133.3 L507.0,132.8 L507.6,132.3 L508.1,131.8 L508.6,131.2 L509.1,130.7 L510.1,130.7 L511.5,131.3 L513.5,132.5 L515.9,134.4 L517.5,136.0 L518.5,137.5Z" fill="#fff" stroke="#8b8b8b" stroke-width="2.1"/>
<path d="M496.8,144.8 L495.5,145.0 L494.2,145.1 L492.8,145.2 L491.5,145.2 L490.2,145.1 L488.8,144.9 L487.5,144.7 L486.2,144.4 L484.9,144.0 L483.7,143.6 L482.5,143.0 L481.3,142.5 L480.1,141.8 L479.0,141.1 L477.9,140.3 L476.9,139.5 L475.9,138.6 L475.4,137.6 L475.6,136.6 L476.2,135.4 L477.4,134.1 L478.5,133.3 L479.5,133.0 L480.4,133.2 L481.2,133.8 L482.0,134.3 L482.8,134.9 L483.6,135.4 L484.5,135.8 L485.4,136.2 L486.3,136.6 L487.2,136.9 L488.2,137.2 L489.1,137.4 L490.1,137.6 L491.1,137.8 L492.0,137.9 L493.0,137.9 L494.0,137.9 L495.0,137.9 L495.9,137.8 L496.8,138.1 L497.4,138.9 L497.9,140.2 L498.2,141.9 L498.2,143.3 L497.7,144.2Z" fill="#fff" stroke="#8b8b8b" stroke-width="2.1"/>
<path d="M473.3,136.2 L472.6,135.5 L471.9,134.8 L471.2,134.0 L470.6,133.2 L470.0,132.4 L469.4,131.5 L468.9,130.7 L468.4,129.8 L468.0,128.8 L467.6,127.9 L467.3,126.9 L467.0,125.9 L466.7,125.0 L466.5,124.0 L466.4,123.0 L466.2,121.9 L466.2,120.9 L466.6,120.1 L467.4,119.6 L468.7,119.2 L470.4,119.1 L471.8,119.2 L472.7,119.5 L473.2,120.0 L473.3,120.8 L473.5,121.5 L473.6,122.3 L473.8,123.0 L474.0,123.7 L474.3,124.4 L474.5,125.1 L474.8,125.8 L475.1,126.5 L475.5,127.1 L475.8,127.8 L476.2,128.4 L476.6,129.1 L477.1,129.7 L477.5,130.3 L478.0,130.8 L478.5,131.4 L478.6,132.1 L478.2,133.1 L477.4,134.1 L476.2,135.4 L475.1,136.2 L474.2,136.4Z" fill="#fff" stroke="#8b8b8b" stroke-width="2.1"/>
<path d="M466.0,118.0 L465.9,117.1 L465.8,116.1 L465.8,115.2 L465.9,114.2 L466.0,113.3 L466.1,112.4 L466.3,111.4 L466.5,110.5 L466.7,109.6 L467.0,108.7 L467.4,107.8 L467.7,106.9 L468.2,106.1 L468.6,105.2 L469.1,104.4 L469.6,103.6 L470.2,102.9 L470.9,102.6 L471.9,102.7 L473.1,103.2 L474.6,104.2 L475.5,105.1 L476.1,105.9 L476.2,106.6 L475.8,107.2 L475.5,107.8 L475.2,108.5 L474.9,109.1 L474.6,109.7 L474.3,110.4 L474.1,111.0 L473.9,111.7 L473.7,112.4 L473.5,113.0 L473.4,113.7 L473.3,114.4 L473.2,115.1 L473.1,115.8 L473.1,116.5 L473.0,117.2 L473.0,117.9 L472.6,118.4 L471.7,118.8 L470.4,119.1 L468.7,119.2 L467.4,119.1 L466.4,118.7Z" fill="#fff" stroke="#8b8b8b" stroke-width="2.1"/>
<path d="M553.4,113.4 L553.8,114.2 L554.1,115.0 L554.5,115.9 L554.8,116.7 L555.0,117.6 L555.2,118.4 L555.4,119.3 L555.5,120.2 L555.5,121.0 L555.5,121.9 L555.5,122.8 L555.3,123.6 L555.1,124.5 L554.9,125.3 L554.6,126.1 L554.3,127.0 L553.9,127.8 L553.5,128.6 L553.0,129.3 L552.5,130.1 L552.0,130.8 L550.8,131.2 L548.9,131.2 L546.3,130.7 L543.0,129.9 L540.6,129.1 L539.0,128.4 L538.3,127.7 L538.5,127.1 L538.6,126.5 L538.7,125.8 L538.8,125.2 L538.9,124.6 L539.0,123.9 L539.1,123.3 L539.2,122.7 L539.3,122.0 L539.3,121.4 L539.4,120.8 L539.4,120.1 L539.4,119.5 L539.5,118.8 L539.5,118.2 L539.5,117.5 L539.5,116.9 L539.5,116.3 L539.4,115.6 L539.4,115.0 L539.4,114.3 L540.2,113.8 L541.8,113.3 L544.4,112.9 L547.7,112.6 L550.3,112.6 L552.2,112.8Z" fill="#fff" stroke="#8b8b8b" stroke-width="2.1"/>
<path d="M542.4,152.3 L542.2,153.2 L542.0,154.0 L541.7,154.8 L541.4,155.7 L541.1,156.5 L540.7,157.2 L540.3,158.0 L539.9,158.7 L539.4,159.4 L538.9,160.0 L538.3,160.6 L537.7,161.2 L537.0,161.7 L536.3,162.2 L535.6,162.6 L534.9,163.0 L534.1,163.4 L533.3,163.7 L532.5,164.0 L531.6,164.3 L530.8,164.5 L529.6,164.0 L528.2,162.8 L526.5,160.8 L524.4,158.1 L523.0,156.0 L522.2,154.5 L522.1,153.5 L522.5,153.1 L523.0,152.8 L523.5,152.4 L524.0,152.0 L524.4,151.5 L524.9,151.1 L525.3,150.7 L525.8,150.3 L526.2,149.8 L526.6,149.4 L527.1,148.9 L527.5,148.5 L527.9,148.0 L528.3,147.6 L528.7,147.1 L529.1,146.6 L529.5,146.1 L529.9,145.7 L530.2,145.2 L530.6,144.7 L531.0,144.2 L531.9,144.3 L533.5,145.0 L535.7,146.3 L538.5,148.2 L540.5,149.8 L541.8,151.2Z" fill="#fff" stroke="#8b8b8b" stroke-width="2.1"/>
<path d="M528.9,165.9 L528.5,166.7 L528.1,167.4 L527.6,168.0 L527.1,168.7 L526.6,169.3 L526.1,169.9 L525.5,170.5 L525.0,171.0 L524.3,171.5 L523.7,171.9 L523.0,172.2 L522.3,172.6 L521.6,172.8 L520.8,173.1 L520.1,173.2 L519.3,173.4 L518.5,173.4 L517.7,173.5 L516.8,173.5 L516.0,173.5 L515.2,173.4 L514.3,172.6 L513.3,171.0 L512.2,168.6 L511.1,165.4 L510.3,163.0 L510.0,161.3 L510.1,160.4 L510.6,160.2 L511.2,160.0 L511.7,159.7 L512.2,159.5 L512.8,159.3 L513.3,159.0 L513.8,158.8 L514.3,158.5 L514.8,158.3 L515.3,158.0 L515.8,157.7 L516.3,157.4 L516.8,157.1 L517.3,156.8 L517.8,156.5 L518.3,156.2 L518.8,155.9 L519.2,155.6 L519.7,155.3 L520.2,155.0 L520.6,154.6 L521.5,155.0 L522.8,156.2 L524.4,158.1 L526.5,160.8 L527.9,163.0 L528.7,164.7Z" fill="#fff" stroke="#8b8b8b" stroke-width="2.1"/>
<path d="M493.6,177.5 L492.8,177.9 L492.0,178.2 L491.2,178.4 L490.3,178.7 L489.5,178.9 L488.6,179.0 L487.8,179.1 L486.9,179.2 L486.1,179.2 L485.2,179.1 L484.4,179.0 L483.6,178.8 L482.8,178.6 L482.0,178.3 L481.2,178.0 L480.4,177.6 L479.7,177.2 L478.9,176.7 L478.2,176.2 L477.5,175.7 L476.8,175.1 L476.5,173.9 L476.7,172.0 L477.3,169.5 L478.3,166.2 L479.2,163.9 L480.0,162.3 L480.7,161.7 L481.3,161.8 L481.9,162.0 L482.5,162.1 L483.1,162.3 L483.7,162.4 L484.3,162.6 L484.9,162.7 L485.5,162.8 L486.2,162.9 L486.8,163.0 L487.4,163.1 L488.0,163.2 L488.6,163.2 L489.3,163.3 L489.9,163.3 L490.5,163.4 L491.1,163.4 L491.7,163.5 L492.4,163.5 L493.0,163.5 L493.6,163.5 L494.1,164.3 L494.5,166.0 L494.7,168.5 L494.7,171.9 L494.6,174.5 L494.2,176.4Z" fill="#fff" stroke="#8b8b8b" stroke-width="2.1"/>
<path d="M474.5,174.4 L473.7,174.5 L472.9,174.6 L472.1,174.6 L471.2,174.6 L470.4,174.5 L469.6,174.4 L468.9,174.3 L468.1,174.1 L467.4,173.9 L466.6,173.6 L465.9,173.2 L465.3,172.9 L464.6,172.4 L464.0,171.9 L463.4,171.4 L462.9,170.8 L462.3,170.2 L461.8,169.6 L461.3,168.9 L460.9,168.3 L460.4,167.6 L460.6,166.3 L461.3,164.6 L462.6,162.3 L464.5,159.6 L466.1,157.6 L467.3,156.3 L468.1,155.9 L468.6,156.2 L469.1,156.5 L469.6,156.8 L470.1,157.1 L470.6,157.4 L471.1,157.7 L471.6,157.9 L472.1,158.2 L472.6,158.5 L473.1,158.7 L473.6,159.0 L474.2,159.2 L474.7,159.5 L475.2,159.7 L475.7,159.9 L476.3,160.1 L476.8,160.3 L477.3,160.6 L477.9,160.8 L478.4,160.9 L479.0,161.1 L479.1,162.1 L478.9,163.8 L478.3,166.2 L477.3,169.5 L476.3,171.9 L475.4,173.6Z" fill="#fff" stroke="#8b8b8b" stroke-width="2.1"/>
<path d="M446.4,154.7 L445.7,154.4 L445.1,154.1 L444.5,153.8 L443.9,153.4 L443.3,153.1 L442.8,152.7 L442.3,152.3 L441.8,151.8 L441.4,151.3 L441.0,150.8 L440.6,150.3 L440.3,149.7 L440.1,149.1 L439.9,148.5 L439.7,147.8 L439.6,147.2 L439.5,146.5 L439.5,145.8 L439.5,145.1 L439.5,144.4 L439.5,143.7 L440.3,142.8 L441.9,141.8 L444.2,140.5 L447.2,139.1 L449.6,138.1 L451.2,137.6 L452.1,137.6 L452.3,138.0 L452.5,138.4 L452.8,138.8 L453.0,139.3 L453.2,139.7 L453.4,140.1 L453.7,140.5 L453.9,140.9 L454.2,141.3 L454.4,141.7 L454.7,142.1 L454.9,142.5 L455.2,142.9 L455.4,143.3 L455.7,143.7 L456.0,144.1 L456.3,144.5 L456.5,144.9 L456.8,145.2 L457.1,145.6 L457.4,146.0 L457.0,146.8 L455.8,148.1 L453.9,149.7 L451.3,151.9 L449.2,153.4 L447.5,154.3Z" fill="#fff" stroke="#8b8b8b" stroke-width="2.1"/>
<path d="M438.7,142.0 L438.2,141.6 L437.6,141.1 L437.1,140.7 L436.6,140.2 L436.1,139.7 L435.7,139.2 L435.3,138.7 L435.0,138.1 L434.7,137.5 L434.4,137.0 L434.2,136.4 L434.1,135.7 L434.0,135.1 L433.9,134.5 L433.9,133.8 L434.0,133.1 L434.1,132.5 L434.2,131.8 L434.4,131.1 L434.5,130.4 L434.8,129.8 L435.7,129.1 L437.5,128.4 L440.0,127.8 L443.4,127.1 L445.9,126.8 L447.6,126.7 L448.5,126.9 L448.6,127.3 L448.7,127.8 L448.8,128.3 L448.9,128.7 L449.0,129.2 L449.1,129.6 L449.3,130.1 L449.4,130.5 L449.5,131.0 L449.7,131.4 L449.8,131.9 L450.0,132.3 L450.1,132.8 L450.3,133.2 L450.4,133.7 L450.6,134.1 L450.8,134.6 L451.0,135.0 L451.1,135.4 L451.3,135.9 L451.5,136.3 L450.9,137.0 L449.5,137.9 L447.2,139.1 L444.2,140.5 L441.7,141.5 L439.9,142.0Z" fill="#fff" stroke="#8b8b8b" stroke-width="2.1"/>
<path d="M433.7,112.5 L433.4,111.9 L433.1,111.3 L432.9,110.6 L432.7,110.0 L432.5,109.4 L432.4,108.8 L432.3,108.2 L432.2,107.6 L432.3,107.0 L432.3,106.4 L432.4,105.8 L432.6,105.2 L432.8,104.6 L433.0,104.1 L433.4,103.5 L433.7,103.0 L434.1,102.5 L434.5,102.0 L434.9,101.5 L435.4,101.1 L435.9,100.6 L437.1,100.5 L439.0,100.8 L441.5,101.4 L444.7,102.4 L447.1,103.3 L448.7,104.0 L449.4,104.5 L449.3,105.0 L449.1,105.4 L449.0,105.8 L448.9,106.2 L448.8,106.7 L448.7,107.1 L448.6,107.5 L448.5,108.0 L448.4,108.4 L448.3,108.8 L448.3,109.3 L448.2,109.7 L448.1,110.1 L448.0,110.6 L448.0,111.0 L447.9,111.5 L447.9,111.9 L447.8,112.3 L447.8,112.8 L447.7,113.2 L447.7,113.7 L446.8,113.9 L445.1,114.0 L442.6,114.0 L439.2,113.7 L436.6,113.4 L434.8,113.0Z" fill="#fff" stroke="#8b8b8b" stroke-width="2.1"/>
<path d="M436.4,98.9 L436.3,98.3 L436.2,97.6 L436.1,96.9 L436.0,96.3 L436.0,95.6 L436.0,95.0 L436.1,94.4 L436.2,93.8 L436.3,93.2 L436.5,92.6 L436.7,92.1 L437.0,91.6 L437.4,91.1 L437.7,90.6 L438.2,90.1 L438.6,89.7 L439.1,89.3 L439.6,88.9 L440.2,88.5 L440.7,88.2 L441.3,87.8 L442.5,88.0 L444.3,88.7 L446.6,89.9 L449.5,91.6 L451.6,93.0 L453.0,94.0 L453.5,94.7 L453.3,95.1 L453.1,95.5 L452.9,95.9 L452.7,96.3 L452.5,96.7 L452.3,97.1 L452.1,97.5 L451.9,97.9 L451.7,98.3 L451.5,98.7 L451.3,99.1 L451.2,99.5 L451.0,99.9 L450.8,100.3 L450.7,100.8 L450.5,101.2 L450.3,101.6 L450.2,102.0 L450.0,102.4 L449.9,102.8 L449.8,103.3 L448.9,103.3 L447.2,103.0 L444.7,102.4 L441.5,101.4 L439.0,100.5 L437.4,99.7Z" fill="#fff" stroke="#8b8b8b" stroke-width="2.1"/>
<path d="M452.2,74.0 L452.4,73.3 L452.6,72.7 L452.8,72.0 L453.1,71.4 L453.4,70.8 L453.7,70.3 L454.1,69.7 L454.5,69.2 L454.9,68.8 L455.4,68.4 L455.9,68.0 L456.4,67.7 L456.9,67.4 L457.5,67.1 L458.1,66.9 L458.8,66.7 L459.4,66.6 L460.1,66.5 L460.7,66.4 L461.4,66.4 L462.1,66.3 L463.1,67.1 L464.3,68.5 L465.7,70.7 L467.5,73.6 L468.7,75.8 L469.3,77.4 L469.5,78.3 L469.1,78.5 L468.7,78.8 L468.3,79.0 L467.9,79.3 L467.5,79.5 L467.2,79.8 L466.8,80.1 L466.4,80.3 L466.0,80.6 L465.7,80.9 L465.3,81.2 L464.9,81.5 L464.6,81.7 L464.2,82.0 L463.9,82.3 L463.5,82.6 L463.2,82.9 L462.8,83.2 L462.5,83.5 L462.1,83.9 L461.8,84.2 L461.0,83.8 L459.6,82.8 L457.8,81.0 L455.4,78.6 L453.7,76.6 L452.6,75.1Z" fill="#fff" stroke="#8b8b8b" stroke-width="2.1"/>
<path d="M463.8,65.4 L464.2,64.8 L464.6,64.1 L465.0,63.6 L465.5,63.0 L465.9,62.5 L466.4,62.0 L467.0,61.6 L467.5,61.2 L468.1,60.8 L468.7,60.5 L469.3,60.2 L469.9,60.0 L470.6,59.8 L471.3,59.7 L472.0,59.6 L472.6,59.6 L473.4,59.6 L474.1,59.7 L474.8,59.8 L475.5,59.9 L476.2,60.0 L477.0,60.9 L477.8,62.6 L478.7,65.1 L479.6,68.4 L480.2,70.8 L480.4,72.5 L480.3,73.4 L479.8,73.6 L479.3,73.7 L478.9,73.9 L478.4,74.1 L477.9,74.2 L477.5,74.4 L477.0,74.6 L476.5,74.8 L476.1,74.9 L475.6,75.1 L475.1,75.3 L474.7,75.5 L474.2,75.7 L473.8,75.9 L473.3,76.2 L472.9,76.4 L472.4,76.6 L472.0,76.8 L471.6,77.1 L471.1,77.3 L470.7,77.6 L469.9,77.0 L468.9,75.7 L467.5,73.6 L465.7,70.7 L464.6,68.3 L463.9,66.6Z" fill="#fff" stroke="#8b8b8b" stroke-width="2.1"/>
<path d="M496.0,57.5 L496.6,57.2 L497.3,56.9 L498.0,56.7 L498.7,56.4 L499.4,56.3 L500.0,56.1 L500.7,56.0 L501.4,56.0 L502.1,56.0 L502.8,56.0 L503.5,56.1 L504.1,56.3 L504.8,56.5 L505.4,56.7 L506.0,57.0 L506.6,57.4 L507.2,57.8 L507.8,58.2 L508.4,58.7 L508.9,59.1 L509.5,59.7 L509.7,60.8 L509.4,62.7 L508.9,65.3 L507.9,68.5 L507.1,70.9 L506.4,72.5 L505.8,73.2 L505.3,73.0 L504.8,72.9 L504.3,72.8 L503.8,72.7 L503.3,72.6 L502.8,72.5 L502.3,72.4 L501.8,72.3 L501.4,72.2 L500.9,72.1 L500.4,72.0 L499.9,72.0 L499.4,71.9 L498.9,71.8 L498.4,71.8 L497.9,71.7 L497.4,71.7 L496.9,71.6 L496.4,71.6 L495.9,71.6 L495.4,71.5 L495.0,70.7 L494.8,69.0 L494.7,66.5 L494.8,63.1 L495.1,60.5 L495.4,58.6Z" fill="#fff" stroke="#8b8b8b" stroke-width="2.1"/>
<path d="M511.5,60.2 L512.3,60.1 L513.0,60.0 L513.8,60.0 L514.6,60.0 L515.3,60.0 L516.1,60.0 L516.8,60.1 L517.6,60.3 L518.3,60.5 L518.9,60.8 L519.6,61.1 L520.3,61.4 L520.9,61.8 L521.5,62.3 L522.0,62.7 L522.6,63.3 L523.1,63.8 L523.6,64.4 L524.0,65.1 L524.5,65.7 L524.9,66.4 L524.8,67.6 L524.1,69.3 L522.8,71.6 L521.0,74.5 L519.5,76.5 L518.4,77.8 L517.6,78.3 L517.1,78.0 L516.6,77.8 L516.2,77.5 L515.7,77.2 L515.2,77.0 L514.8,76.7 L514.3,76.5 L513.8,76.2 L513.3,76.0 L512.8,75.8 L512.3,75.5 L511.8,75.3 L511.3,75.1 L510.8,74.9 L510.3,74.7 L509.8,74.5 L509.3,74.3 L508.8,74.1 L508.3,74.0 L507.8,73.8 L507.3,73.6 L507.1,72.7 L507.3,71.0 L507.9,68.5 L508.9,65.3 L509.8,62.8 L510.6,61.1Z" fill="#fff" stroke="#8b8b8b" stroke-width="2.1"/>
<path d="M540.8,80.6 L541.5,80.9 L542.2,81.3 L542.9,81.7 L543.5,82.1 L544.2,82.6 L544.8,83.1 L545.3,83.6 L545.8,84.2 L546.3,84.7 L546.7,85.3 L547.1,86.0 L547.4,86.6 L547.7,87.3 L548.0,88.1 L548.2,88.8 L548.3,89.5 L548.4,90.3 L548.5,91.1 L548.5,91.9 L548.5,92.7 L548.5,93.5 L547.7,94.4 L546.1,95.5 L543.8,96.6 L540.7,97.9 L538.3,98.8 L536.6,99.2 L535.6,99.1 L535.4,98.6 L535.2,98.1 L535.0,97.6 L534.7,97.1 L534.5,96.6 L534.2,96.1 L534.0,95.6 L533.7,95.2 L533.4,94.7 L533.1,94.2 L532.9,93.7 L532.6,93.3 L532.3,92.8 L532.0,92.3 L531.7,91.9 L531.4,91.4 L531.1,91.0 L530.7,90.5 L530.4,90.1 L530.1,89.6 L529.7,89.2 L530.1,88.3 L531.3,87.0 L533.2,85.3 L535.8,83.2 L537.9,81.7 L539.6,80.8Z" fill="#fff" stroke="#8b8b8b" stroke-width="2.1"/>
<path d="M549.4,95.6 L550.0,96.1 L550.5,96.7 L551.1,97.4 L551.6,98.0 L552.1,98.7 L552.5,99.3 L552.9,100.0 L553.2,100.8 L553.5,101.5 L553.8,102.2 L554.0,103.0 L554.1,103.8 L554.2,104.6 L554.2,105.3 L554.2,106.1 L554.1,107.0 L554.0,107.8 L553.8,108.6 L553.6,109.4 L553.4,110.2 L553.1,111.0 L552.1,111.6 L550.3,112.2 L547.7,112.6 L544.4,112.9 L541.8,113.0 L540.1,112.9 L539.2,112.5 L539.1,111.9 L539.1,111.3 L539.0,110.8 L538.9,110.2 L538.8,109.6 L538.7,109.1 L538.6,108.5 L538.5,107.9 L538.4,107.3 L538.2,106.8 L538.1,106.2 L537.9,105.6 L537.8,105.1 L537.6,104.5 L537.5,104.0 L537.3,103.4 L537.1,102.9 L536.9,102.3 L536.7,101.8 L536.5,101.2 L536.3,100.7 L536.9,99.9 L538.4,99.0 L540.7,97.9 L543.8,96.6 L546.3,95.8 L548.1,95.4Z" fill="#fff" stroke="#8b8b8b" stroke-width="2.1"/>
<path d="M551.6,133.4 L551.6,134.3 L551.5,135.2 L551.4,136.1 L551.2,137.0 L551.0,137.9 L550.9,138.8 L550.6,139.7 L550.4,140.6 L550.1,141.4 L549.7,142.2 L549.4,143.1 L548.9,143.9 L548.5,144.7 L548.0,145.4 L547.5,146.2 L547.0,146.9 L546.5,147.6 L545.9,148.3 L545.3,149.0 L544.7,149.7 L544.0,150.3 L542.8,150.3 L540.9,149.6 L538.4,148.1 L535.3,146.0 L533.1,144.3 L531.7,142.9 L531.1,141.9 L531.4,141.3 L531.6,140.7 L531.9,140.1 L532.1,139.5 L532.4,138.9 L532.7,138.3 L532.9,137.7 L533.2,137.1 L533.4,136.5 L533.7,135.9 L534.0,135.3 L534.2,134.7 L534.5,134.1 L534.8,133.5 L535.1,132.9 L535.3,132.3 L535.6,131.8 L535.9,131.2 L536.2,130.6 L536.5,130.0 L536.7,129.3 L537.9,129.1 L539.8,129.3 L542.6,129.8 L546.2,130.7 L549.0,131.6 L550.7,132.5Z" fill="#2a76c4" stroke="#6a8fb3" stroke-width="2"/>
<path d="M513.0,174.5 L512.3,174.9 L511.6,175.4 L510.8,175.8 L510.1,176.1 L509.3,176.5 L508.5,176.8 L507.8,177.1 L507.0,177.4 L506.1,177.6 L505.3,177.8 L504.5,177.9 L503.7,178.1 L502.8,178.1 L502.0,178.2 L501.2,178.2 L500.3,178.2 L499.5,178.1 L498.6,178.1 L497.8,178.0 L497.0,177.8 L496.1,177.7 L495.5,176.7 L495.0,174.7 L494.7,171.9 L494.7,168.1 L494.7,165.3 L495.0,163.3 L495.4,162.3 L496.0,162.2 L496.7,162.0 L497.3,161.9 L497.9,161.8 L498.4,161.6 L499.0,161.5 L499.6,161.4 L500.2,161.2 L500.8,161.1 L501.4,161.0 L502.0,160.9 L502.6,160.8 L503.2,160.7 L503.8,160.6 L504.4,160.5 L505.0,160.4 L505.6,160.3 L506.2,160.2 L506.8,160.1 L507.4,160.0 L508.1,159.9 L508.8,160.7 L509.8,162.4 L510.9,165.0 L512.2,168.6 L513.0,171.3 L513.3,173.3Z" fill="#2a76c4" stroke="#6a8fb3" stroke-width="2"/>
<path d="M458.4,166.5 L457.8,166.2 L457.1,166.0 L456.4,165.7 L455.7,165.3 L455.1,165.0 L454.5,164.6 L453.8,164.2 L453.2,163.8 L452.7,163.4 L452.1,162.9 L451.6,162.4 L451.1,161.9 L450.6,161.3 L450.1,160.8 L449.7,160.2 L449.3,159.6 L448.9,159.0 L448.5,158.4 L448.1,157.7 L447.8,157.1 L447.5,156.4 L447.9,155.3 L449.2,153.8 L451.3,151.8 L454.2,149.5 L456.5,147.8 L458.2,146.8 L459.2,146.4 L459.7,146.8 L460.1,147.1 L460.5,147.4 L460.9,147.8 L461.3,148.1 L461.7,148.4 L462.1,148.8 L462.5,149.1 L462.9,149.5 L463.3,149.8 L463.7,150.2 L464.1,150.5 L464.5,150.9 L464.8,151.3 L465.2,151.6 L465.6,152.0 L465.9,152.4 L466.3,152.8 L466.7,153.2 L467.1,153.6 L467.4,154.0 L467.2,155.0 L466.3,156.8 L464.8,159.2 L462.7,162.3 L460.9,164.5 L459.5,165.9Z" fill="#2a76c4" stroke="#6a8fb3" stroke-width="2"/>
<path d="M434.1,127.9 L433.8,127.3 L433.6,126.7 L433.3,126.1 L433.1,125.4 L432.9,124.8 L432.7,124.2 L432.5,123.5 L432.4,122.9 L432.3,122.2 L432.2,121.5 L432.2,120.9 L432.1,120.2 L432.2,119.5 L432.2,118.9 L432.3,118.2 L432.4,117.6 L432.6,116.9 L432.7,116.3 L432.9,115.6 L433.1,115.0 L433.3,114.3 L434.4,113.9 L436.4,113.7 L439.3,113.7 L443.0,114.0 L445.8,114.3 L447.7,114.7 L448.7,115.1 L448.8,115.6 L448.9,116.1 L448.9,116.6 L449.0,117.1 L449.1,117.5 L449.2,118.0 L449.2,118.5 L449.3,119.0 L449.3,119.5 L449.3,119.9 L449.4,120.4 L449.4,120.9 L449.4,121.4 L449.4,121.8 L449.4,122.3 L449.4,122.8 L449.4,123.3 L449.4,123.8 L449.4,124.3 L449.4,124.8 L449.3,125.3 L448.4,125.8 L446.6,126.4 L443.8,127.1 L440.1,127.8 L437.3,128.1 L435.3,128.2Z" fill="#2a76c4" stroke="#6a8fb3" stroke-width="2"/>
<path d="M442.1,86.1 L442.3,85.4 L442.5,84.8 L442.7,84.1 L442.9,83.5 L443.2,82.8 L443.5,82.2 L443.8,81.6 L444.2,81.0 L444.5,80.5 L444.9,79.9 L445.3,79.4 L445.8,78.9 L446.2,78.4 L446.7,77.9 L447.2,77.5 L447.7,77.0 L448.3,76.6 L448.9,76.2 L449.4,75.9 L450.0,75.5 L450.6,75.2 L451.7,75.6 L453.3,76.7 L455.4,78.7 L458.1,81.3 L460.0,83.5 L461.1,85.0 L461.6,86.0 L461.3,86.4 L461.1,86.8 L460.8,87.2 L460.5,87.7 L460.2,88.1 L460.0,88.5 L459.7,88.9 L459.4,89.3 L459.1,89.7 L458.8,90.1 L458.5,90.4 L458.2,90.8 L457.9,91.2 L457.6,91.6 L457.3,91.9 L456.9,92.3 L456.6,92.7 L456.3,93.0 L455.9,93.4 L455.6,93.8 L455.2,94.1 L454.2,93.9 L452.4,93.2 L449.9,91.8 L446.6,89.9 L444.3,88.3 L442.7,87.0Z" fill="#2a76c4" stroke="#6a8fb3" stroke-width="2"/>
<path d="M478.2,59.2 L478.9,58.8 L479.6,58.5 L480.3,58.2 L481.0,57.9 L481.7,57.6 L482.5,57.3 L483.2,57.1 L483.9,56.9 L484.7,56.7 L485.4,56.6 L486.2,56.5 L487.0,56.4 L487.7,56.4 L488.5,56.4 L489.3,56.5 L490.0,56.5 L490.8,56.6 L491.6,56.7 L492.3,56.9 L493.1,57.1 L493.8,57.2 L494.4,58.3 L494.7,60.3 L494.8,63.1 L494.7,66.9 L494.5,69.7 L494.2,71.7 L493.8,72.7 L493.2,72.8 L492.6,72.9 L492.1,73.0 L491.5,73.1 L491.0,73.2 L490.4,73.3 L489.9,73.4 L489.3,73.4 L488.8,73.5 L488.2,73.6 L487.7,73.7 L487.1,73.7 L486.6,73.8 L486.0,73.8 L485.5,73.9 L484.9,73.9 L484.4,74.0 L483.8,74.0 L483.3,74.0 L482.7,74.1 L482.1,74.1 L481.4,73.3 L480.6,71.5 L479.7,68.8 L478.7,65.2 L478.1,62.4 L478.0,60.4Z" fill="#2a76c4" stroke="#6a8fb3" stroke-width="2"/>
<path d="M527.0,67.4 L527.7,67.7 L528.5,68.0 L529.3,68.3 L530.0,68.7 L530.7,69.1 L531.4,69.5 L532.1,69.9 L532.8,70.4 L533.5,70.9 L534.1,71.4 L534.7,72.0 L535.3,72.5 L535.9,73.1 L536.4,73.8 L536.9,74.4 L537.4,75.1 L537.9,75.7 L538.3,76.4 L538.7,77.2 L539.2,77.9 L539.5,78.6 L539.1,79.8 L537.8,81.3 L535.7,83.3 L532.8,85.6 L530.5,87.3 L528.8,88.3 L527.8,88.6 L527.3,88.2 L526.8,87.8 L526.4,87.4 L525.9,87.0 L525.4,86.7 L525.0,86.3 L524.5,85.9 L524.1,85.5 L523.6,85.1 L523.2,84.7 L522.7,84.3 L522.3,83.9 L521.9,83.5 L521.4,83.1 L521.0,82.7 L520.6,82.3 L520.1,81.9 L519.7,81.5 L519.3,81.0 L518.8,80.6 L518.4,80.2 L518.6,79.1 L519.4,77.3 L520.8,74.8 L522.8,71.7 L524.5,69.4 L525.9,68.0Z" fill="#2a76c4" stroke="#6a8fb3" stroke-width="2"/>
<path d="M450.7,157.5 V217.5 L508.5,177.3" stroke="#111" stroke-width="2.3" fill="none"/>
<line x1="289.35" y1="87.1" x2="403.4" y2="87.1" stroke="#111" stroke-width="2" stroke-dasharray="2,2.15"/>
<path d="M412.5,87.1 L405.2,83.2 L405.2,91 Z" fill="#111"/>
</svg></body></html>
